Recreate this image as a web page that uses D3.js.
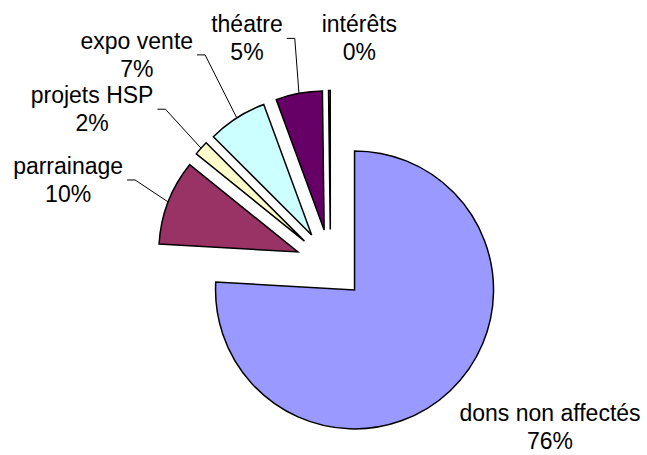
<!DOCTYPE html>
<html>
<head>
<meta charset="utf-8">
<script src="https://cdn.jsdelivr.net/npm/d3@7"></script>
<style>
body { margin: 0; background: #fff; }
text { font-family: Arial, "Liberation Sans", sans-serif; font-size: 23px; fill: #000; }
</style>
</head>
<body>
<svg id="vis1" width="647" height="455"></svg>
<script>
// values (share of the budget, %)
var categories = ["dons non affectés", "parrainage", "projets HSP", "expo vente", "théatre", "intérêts"];
var values = [75.9, 9.9, 1.7, 6.9, 5.4, 0.2];
var colors = ["#9999FF", "#993366", "#FFFFCC", "#CCFFFF", "#660066", "#FF8080"];

// label offset from the rim point of its slice
var labelShift = [[100, 30.5], [-100, -28], [-109, -45], [-100, -69], [-52, -61], [30, -59]];

var cx = 330.5, cy = 264.5, radius = 139, explode = 35, lineH = 28;

var svg = d3.select("#vis1");
var total = d3.sum(values);
var pct = d3.format(".0%");

var pie = d3.pie().sort(null).value(function(d) { return d; });
var arcs = pie(values);
var arc = d3.arc().innerRadius(0).outerRadius(radius);

// angle is clockwise from 12 o'clock, same as d3.arc
var dir = function(a) { return [Math.sin(a), -Math.cos(a)]; };

var slices = arcs.map(function(d, i) {
  var mid = (d.startAngle + d.endAngle) / 2;
  var u = dir(mid);
  var ox = cx + u[0] * explode, oy = cy + u[1] * explode;
  return {
    arc: d,
    i: i,
    ox: ox,
    oy: oy,
    rimX: ox + u[0] * radius,
    rimY: oy + u[1] * radius
  };
});

svg.selectAll(".slice")
  .data(slices)
  .enter().append("path")
  .attr("class", "slice")
  .attr("transform", function(s) { return "translate(" + s.ox + "," + s.oy + ")"; })
  .attr("d", function(s) { return arc(s.arc); })
  .style("fill", function(s) { return colors[s.i]; })
  .style("stroke", "#000")
  .style("stroke-width", 1.5)
  .style("stroke-linejoin", "miter");

var labels = svg.selectAll(".label")
  .data(slices)
  .enter().append("text")
  .attr("class", "label")
  .attr("text-anchor", "middle");

labels.each(function(s) {
  var t = d3.select(this);
  var x = s.rimX + labelShift[s.i][0];
  var y = s.rimY + labelShift[s.i][1];
  t.append("tspan").attr("x", x).attr("y", y).text(categories[s.i]);
  t.append("tspan").attr("x", x).attr("y", y + lineH).text(pct(values[s.i] / total));
});

// leader lines, Excel style: short stub off the label then straight to the rim
labels.each(function(s) {
  var b = this.getBBox();
  var px = s.rimX, py = s.rimY;
  var dx = Math.max(b.x - px, 0, px - (b.x + b.width));
  var dy = Math.max(b.y - py, 0, py - (b.y + b.height));
  if (Math.sqrt(dx * dx + dy * dy) < 30) return;
  var a, e;
  if (px > b.x + b.width) {
    a = [b.x + b.width + 4, b.y + b.height / 2];
    e = [a[0] + 8, a[1]];
  } else if (px < b.x) {
    a = [b.x - 4, b.y + b.height / 2];
    e = [a[0] - 8, a[1]];
  } else {
    a = [b.x + b.width / 2, b.y + b.height + 5];
    e = [a[0], a[1] + 8];
  }
  svg.append("path")
    .attr("d", d3.line()([a, e, [px, py]]))
    .style("fill", "none")
    .style("stroke", "#000")
    .style("stroke-width", 1);
});
</script>
</body>
</html>
